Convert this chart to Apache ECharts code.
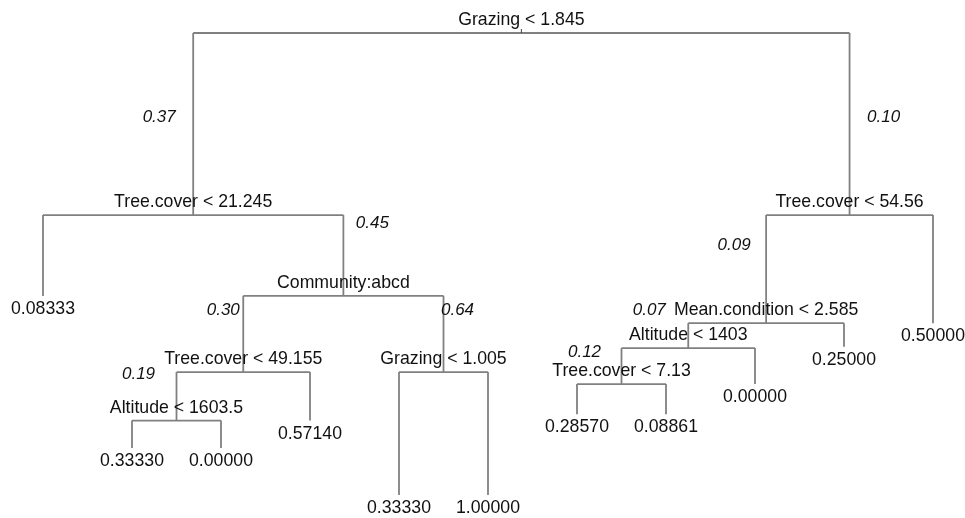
<!DOCTYPE html>
<html>
<head>
<meta charset="utf-8">
<script src="https://cdn.jsdelivr.net/npm/echarts@6/dist/echarts.min.js"></script>
<style>
html,body{margin:0;padding:0;background:#fff;}
#chart{width:965px;height:518px;}
</style>
</head>
<body>
<div id="chart"></div>
<script>
// ---- Tree data (pre-order) ----
const nodeLabels = [
  "Grazing < 1.845",
  "Tree.cover < 21.245",
  "0.08333",
  "Community:abcd",
  "Tree.cover < 49.155",
  "Altitude < 1603.5",
  "0.33330",
  "0.00000",
  "0.57140",
  "Grazing < 1.005",
  "0.33330",
  "1.00000",
  "Tree.cover < 54.56",
  "Mean.condition < 2.585",
  "Altitude < 1403",
  "Tree.cover < 7.13",
  "0.28570",
  "0.08861",
  "0.00000",
  "0.25000",
  "0.50000"
];
const nodeParent = [-1, 0, 1, 1, 3, 4, 5, 5, 4, 3, 9, 9, 0, 12, 13, 14, 15, 15, 14, 13, 12];
// node height (relative deviance scale, root = 1)
const nodeHeight = [1.000, 0.606, 0.431, 0.431, 0.266, 0.161, 0.102, 0.102, 0.161, 0.266, 0.000, 0.000,
                    0.606, 0.372, 0.318, 0.240, 0.175, 0.175, 0.240, 0.321, 0.372];
// italic edge annotations, by child node index
const edgeLabelNodes = [1, 12, 3, 13, 4, 9, 5, 14, 15];
const edgeLabelTexts = ["0.37", "0.10", "0.45", "0.09", "0.30", "0.64", "0.19", "0.07", "0.12"];

// ---- layout/styling of annotations (pixel offsets, fraction along branch) ----
const edgeLabelPlacement = {
  1: {dx: -34, f: 0.538}, 12: {dx: 34, f: 0.538}, 3: {dx: 29, f: 0.903},
  13: {dx: -32, f: 0.718}, 4: {dx: -20, f: 0.812}, 9: {dx: 14, f: 0.812},
  5: {dx: -38, f: 0.962}, 14: {dx: -39, f: 1.52}, 15: {dx: -37, f: 0.897}
};

// ---- derive layout: leaves equally spaced, internal node at midpoint of children ----
const n = nodeLabels.length;
const children = Array.from({length: n}, () => []);
nodeParent.forEach((p, i) => { if (p >= 0) children[p].push(i); });
const nodeX = new Array(n);
let leafCount = 0;
function place(i) {
  if (children[i].length === 0) { nodeX[i] = ++leafCount; return; }
  children[i].forEach(place);
  nodeX[i] = children[i].reduce((s, c) => s + nodeX[c], 0) / children[i].length;
}
place(0);

const splitData = [];
for (let i = 0; i < n; i++) {
  if (children[i].length === 2) {
    const [l, r] = children[i];
    splitData.push([nodeX[i], nodeHeight[i], nodeX[l], nodeHeight[l], nodeX[r], nodeHeight[r], i]);
  }
}
const labelData = nodeLabels.map((t, i) => [nodeX[i], nodeHeight[i], i]);
const edgeData = edgeLabelNodes.map((c, k) => {
  const p = nodeParent[c];
  const pl = edgeLabelPlacement[c];
  const y = nodeHeight[c] + pl.f * (nodeHeight[p] - nodeHeight[c]);
  return [nodeX[c], y, k];
});

const LINE = '#808080';
const TXT = '#111111';
const FONT = '"Liberation Sans", Arial, Helvetica, sans-serif';

const chart = echarts.init(document.getElementById('chart'));
chart.setOption({
  backgroundColor: '#ffffff',
  animation: false,
  grid: {left: 43, right: 32, top: 33, bottom: 23, containLabel: false, outerBoundsMode: 'none'},
  xAxis: {type: 'value', min: 1, max: 11, show: false},
  yAxis: {type: 'value', min: 0, max: 1, show: false},
  series: [
    {
      type: 'custom',
      clip: false,
      data: splitData,
      encode: {x: 0, y: 1},
      renderItem: function (params, api) {
        const p = api.coord([api.value(0), api.value(1)]);
        const l = api.coord([api.value(2), api.value(3)]);
        const r = api.coord([api.value(4), api.value(5)]);
        const st = {stroke: LINE, lineWidth: 1.8, fill: null};
        const kids = [
          {type: 'line', shape: {x1: l[0], y1: p[1], x2: r[0], y2: p[1]}, style: st},
          {type: 'line', shape: {x1: l[0], y1: p[1], x2: l[0], y2: l[1]}, style: st},
          {type: 'line', shape: {x1: r[0], y1: p[1], x2: r[0], y2: r[1]}, style: st}
        ];
        if (api.value(6) === 0) {
          kids.push({type: 'line', shape: {x1: p[0], y1: p[1] - 4, x2: p[0], y2: p[1]},
                     style: {stroke: '#444', lineWidth: 1}});
        }
        return {type: 'group', children: kids};
      }
    },
    {
      type: 'custom',
      clip: false,
      data: labelData,
      encode: {x: 0, y: 1},
      z: 3,
      renderItem: function (params, api) {
        const i = api.value(2);
        const p = api.coord([api.value(0), api.value(1)]);
        const isLeaf = children[i].length === 0;
        return {
          type: 'text',
          style: {
            x: p[0], y: p[1] + (isLeaf ? 13 : -13),
            text: nodeLabels[i],
            align: 'center', verticalAlign: 'middle',
            font: '17.7px ' + FONT,
            fill: TXT
          }
        };
      }
    },
    {
      type: 'custom',
      clip: false,
      data: edgeData,
      encode: {x: 0, y: 1},
      z: 3,
      renderItem: function (params, api) {
        const k = api.value(2);
        const c = edgeLabelNodes[k];
        const p = api.coord([api.value(0), api.value(1)]);
        return {
          type: 'text',
          style: {
            x: p[0] + edgeLabelPlacement[c].dx, y: p[1],
            text: edgeLabelTexts[k],
            align: 'center', verticalAlign: 'middle',
            font: 'italic 17px ' + FONT,
            fill: TXT
          }
        };
      }
    }
  ]
});
</script>
</body>
</html>
